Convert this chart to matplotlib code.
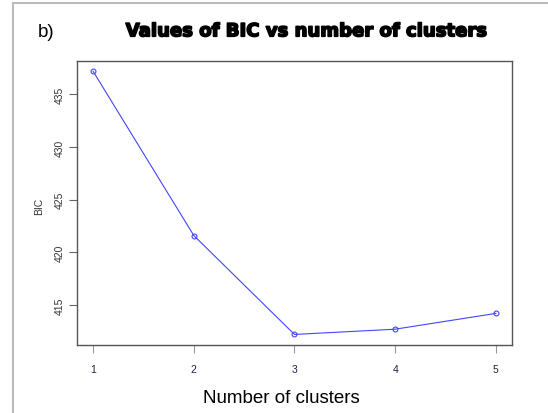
import matplotlib
matplotlib.use('Agg')
import matplotlib.pyplot as plt
import matplotlib.patheffects as pe
from matplotlib.lines import Line2D

# BIC por número de clusters
clusters = [1, 2, 3, 4, 5]
bic = [437.2, 421.6, 412.2, 412.7, 414.2]
yticks = [415, 420, 425, 430, 435]

plt.rcParams['font.family'] = ['Liberation Sans', 'DejaVu Sans']

fig = plt.figure(figsize=(5.48, 4.14), dpi=100)
ax = fig.add_axes([0.1405, 0.1643, 0.7938, 0.6865])

ax.plot(clusters, bic, color='#4444ff', lw=0.8, marker='o', ms=3.5,
        mfc='none', mec='#4444ff', mew=0.8)

ax.set_xlim(0.84, 5.16)
ax.set_ylim(411.2, 438.2)
ax.set_xticks(clusters)
ax.set_yticks(yticks)
ax.tick_params(axis='x', labelsize=7.5, length=6, width=0.8, color='#999999', pad=8, labelcolor='#222244')
ax.tick_params(axis='y', labelsize=7.5, length=6, width=0.8, color='#666666', pad=2.5, labelcolor='#333333')
for lab in ax.get_yticklabels():
    lab.set_rotation(90)
    lab.set_va('center')
for s in ax.spines.values():
    s.set_color('#555555')
    s.set_linewidth(1.0)

ax.set_ylabel('BIC', fontsize=7.5, color='#333333')
ax.yaxis.set_label_coords(-0.076, 0.49)
ax.set_xlabel('Number of clusters', fontsize=13.5)
ax.xaxis.set_label_coords(0.469, -0.155)

fig.text(0.557, 0.922, 'Values of BIC vs number of clusters', ha='center', va='center',
         fontsize=13, fontweight='heavy', family=['DejaVu Sans'],
         path_effects=[pe.withStroke(linewidth=1.2, foreground='black')])
fig.text(0.084, 0.922, 'b)', ha='center', va='center', fontsize=13.5)

# marco gris de la figura
fig.add_artist(Line2D([13 / 548, 13 / 548], [0, 1 - 4 / 414], color='#bbbbbb', lw=1.5, transform=fig.transFigure))
fig.add_artist(Line2D([13 / 548, 1], [1 - 4 / 414, 1 - 4 / 414], color='#bbbbbb', lw=1.5, transform=fig.transFigure))

fig.savefig('out.png', dpi=100)
